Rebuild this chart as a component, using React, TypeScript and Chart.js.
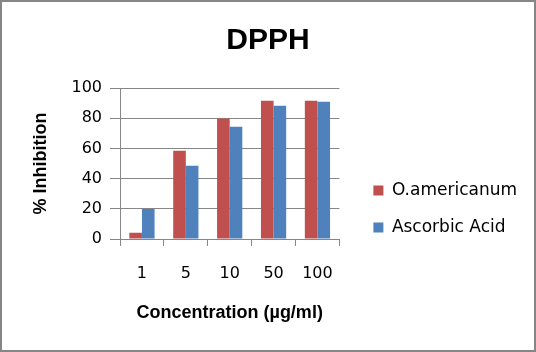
import React, { useEffect, useRef } from "react";
import Chart from "chart.js/auto";

const categories = ["1", "5", "10", "50", "100"];
const oAmericanum = [4.2, 58.5, 79.8, 91.6, 91.6];
const ascorbicAcid = [19.9, 48.5, 74.4, 88.3, 90.9];
const seriesNames = ["O.americanum", "Ascorbic Acid"];
const seriesColors = ["#C0504D", "#4F81BD"];
const yMin = 0;
const yMax = 100;
const yStep = 20;

const GRID = "#868686";
const LEGEND_DX = 14;
const LEGEND_DY = 33;

const legendShift = {
  id: "legendShift",
  afterLayout(chart: any) {
    const l = chart.legend;
    if (!l) return;
    l.left += LEGEND_DX;
    l.right += LEGEND_DX;
    l.top += LEGEND_DY;
    l.bottom += LEGEND_DY;
  },
};

const frame = {
  id: "frame",
  afterDraw(chart: any) {
    const ctx = chart.ctx;
    ctx.save();
    ctx.strokeStyle = GRID;
    ctx.lineWidth = 2;
    ctx.strokeRect(1, 1, chart.width - 2, chart.height - 2);
    ctx.restore();
  },
};

export default function App() {
  const ref = useRef<HTMLCanvasElement | null>(null);
  useEffect(() => {
    document.body.style.margin = "0";
    const canvas = ref.current;
    if (!canvas) return;
    const chart = new Chart(canvas, {
      type: "bar",
      data: {
        labels: categories,
        datasets: [
          {
            label: seriesNames[0],
            data: oAmericanum,
            backgroundColor: seriesColors[0],
            borderWidth: 0,
            categoryPercentage: 0.575,
            barPercentage: 1,
          },
          {
            label: seriesNames[1],
            data: ascorbicAcid,
            backgroundColor: seriesColors[1],
            borderWidth: 0,
            categoryPercentage: 0.575,
            barPercentage: 1,
          },
        ],
      },
      options: {
        responsive: false,
        animation: false,
        layout: { padding: { left: 23, right: 23, top: 0, bottom: 0 } },
        plugins: {
          title: {
            display: true,
            text: "DPPH",
            color: "#000",
            font: { family: "Liberation Sans", size: 30, weight: "bold" },
            padding: { top: 23, bottom: 29 },
          },
          legend: {
            position: "right",
            maxWidth: 220,
            labels: {
              boxWidth: 10,
              boxHeight: 10,
              padding: 20,
              color: "#000",
              font: { family: "DejaVu Sans", size: 17 },
            },
          },
          tooltip: { enabled: false },
        },
        scales: {
          x: {
            grid: {
              display: true,
              drawOnChartArea: false,
              offset: true,
              tickLength: 7,
              color: GRID,
            },
            border: { color: GRID },
            ticks: {
              color: "#000",
              font: { family: "DejaVu Sans", size: 16 },
              padding: 18,
            },
            title: {
              display: true,
              text: "Concentration (µg/ml)",
              color: "#000",
              font: { family: "Liberation Sans", size: 18, weight: "bold" },
              padding: { top: 0, bottom: 28 },
            },
            afterFit(s: any) {
              s.height = 113;
            },
          },
          y: {
            min: yMin,
            max: yMax,
            grid: { color: GRID, tickLength: 10 },
            border: { color: GRID },
            ticks: {
              stepSize: yStep,
              color: "#000",
              font: { family: "DejaVu Sans", size: 16 },
              padding: 8,
            },
            title: {
              display: true,
              text: "% Inhibition",
              color: "#000",
              font: { family: "Liberation Sans", size: 18, weight: "bold" },
              padding: { top: 7, bottom: 0 },
            },
            afterFit(s: any) {
              s.width = 97;
            },
          },
        },
      },
      plugins: [legendShift, frame],
    });
    return () => chart.destroy();
  }, []);
  return <canvas ref={ref} width={536} height={352} style={{ display: "block" }} />;
}
